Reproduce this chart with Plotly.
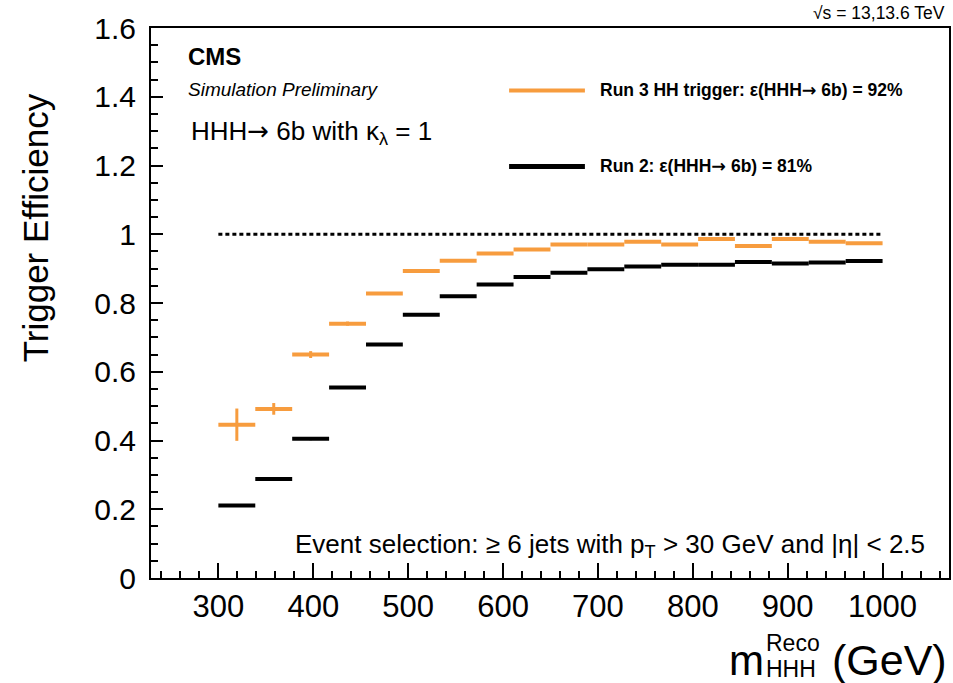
import plotly.graph_objects as go

# ---------------- data ----------------
bin_edges = [300.0, 338.9, 377.8, 416.7, 455.6, 494.4, 533.3, 572.2, 611.1, 650.0,
             688.9, 727.8, 766.7, 805.6, 844.4, 883.3, 922.2, 961.1, 1000.0]
run3_eff = [0.446, 0.492, 0.650, 0.740, 0.828, 0.893, 0.923, 0.944, 0.956, 0.970,
            0.970, 0.978, 0.970, 0.986, 0.966, 0.986, 0.978, 0.974]
run3_err = [0.047, 0.017, 0.010, 0.006, 0.004, 0.004, 0.003, 0.003, 0.003, 0.003,
            0.003, 0.003, 0.003, 0.003, 0.003, 0.003, 0.003, 0.003]
run2_eff = [0.211, 0.288, 0.405, 0.554, 0.679, 0.766, 0.820, 0.854, 0.876, 0.888,
            0.898, 0.906, 0.911, 0.911, 0.919, 0.915, 0.918, 0.922]
run2_err = [0.004, 0.004, 0.004, 0.004, 0.003, 0.003, 0.003, 0.003, 0.003, 0.003,
            0.003, 0.003, 0.003, 0.003, 0.003, 0.003, 0.003, 0.003]
unity_x = [300, 1000]
unity_y = [1.0, 1.0]
x_ticks = [300, 400, 500, 600, 700, 800, 900, 1000]

ORANGE = "#f79c3e"
FONT = "Liberation Sans"
ARROW = '<span style="font-family:DejaVu Sans">\u2192</span>'

centers = [(a + b) / 2 for a, b in zip(bin_edges[:-1], bin_edges[1:])]
halfw = [(b - a) / 2 for a, b in zip(bin_edges[:-1], bin_edges[1:])]

W, H = 953, 683
L, R, T, B = 151, 2, 28, 105
PW, PH = W - L - R, H - T - B


def px(xp):
    return (xp - L) / PW


def py(yp):
    return (H - B - yp) / PH


fig = go.Figure()

fig.add_trace(go.Scatter(
    x=unity_x, y=unity_y, mode="lines",
    line=dict(color="black", width=3, dash="4px,3px"),
    showlegend=False, hoverinfo="skip"))

fig.add_trace(go.Scatter(
    x=centers, y=run2_eff, mode="markers",
    marker=dict(size=1, color="rgba(0,0,0,0)"),
    error_x=dict(type="data", array=halfw, width=0, thickness=4, color="black"),
    error_y=dict(type="data", array=run2_err, width=0, thickness=3, color="black"),
    name="Run 2", showlegend=False))

fig.add_trace(go.Scatter(
    x=centers, y=run3_eff, mode="markers",
    marker=dict(size=1, color="rgba(0,0,0,0)"),
    error_x=dict(type="data", array=halfw, width=0, thickness=4, color=ORANGE),
    error_y=dict(type="data", array=run3_err, width=0, thickness=3, color=ORANGE),
    name="Run 3", showlegend=False))

fig.update_layout(
    width=W, height=H,
    margin=dict(l=L, r=R, t=T, b=B, pad=0),
    plot_bgcolor="white", paper_bgcolor="white",
    font=dict(family=FONT, color="black"),
    showlegend=False,
)

fig.update_xaxes(
    range=[229, 1070], tickmode="array", tickvals=x_ticks,
    ticktext=[str(v) for v in x_ticks],
    ticks="inside", ticklen=15, tickwidth=2, tickcolor="black",
    minor=dict(ticks="inside", ticklen=7, tickwidth=2, tickcolor="black",
               dtick=20, tick0=300, showgrid=False),
    showline=True, linewidth=2, linecolor="black", mirror=True,
    showgrid=False, zeroline=False,
    tickfont=dict(size=31, family=FONT), ticklabelstandoff=0,
)
fig.update_yaxes(
    range=[0, 1.6], dtick=0.2, tick0=0,
    ticks="inside", ticklen=12, tickwidth=2, tickcolor="black",
    minor=dict(ticks="inside", ticklen=7, tickwidth=2, tickcolor="black",
               dtick=0.05, tick0=0, showgrid=False),
    showline=True, linewidth=2, linecolor="black", mirror=True,
    showgrid=False, zeroline=False,
    tickfont=dict(size=30, family=FONT), ticklabelstandoff=7,
)

ann = []


def add_text(text, xp, yp, size, xanchor="left", yanchor="middle", angle=0, **kw):
    ann.append(dict(text=text, x=px(xp), y=py(yp), xref="paper", yref="paper",
                    xanchor=xanchor, yanchor=yanchor, showarrow=False,
                    textangle=angle, font=dict(size=size, family=FONT, color="black"),
                    **kw))


add_text("<b>CMS</b>", 186, 56, 24)
add_text("<i>Simulation Preliminary</i>", 186, 90, 19)
add_text("HHH" + ARROW + " 6b with \u03ba<sub>\u03bb</sub> = 1", 189, 132, 26)
add_text("<b>Run 3 HH trigger: \u03b5(HHH" + ARROW + " 6b) = 92%</b>", 599, 90, 17.5)
add_text("<b>Run 2: \u03b5(HHH" + ARROW + " 6b) = 81%</b>", 599, 166, 17.5)
add_text("Event selection: \u2265 6 jets with p<sub>T</sub> &gt; 30 GeV and |\u03b7| &lt; 2.5",
         293, 545, 26)
add_text("\u221as = 13,13.6 TeV", 949, 13, 17.5, xanchor="right")
add_text("Trigger Efficiency", 35, 228, 35, xanchor="center", angle=-90)
add_text("m", 728, 660, 42)
add_text("(GeV)", 951, 660, 43, xanchor="right")
add_text("Reco", 766, 643, 23)
add_text("HHH", 766, 669, 23)

fig.update_layout(annotations=ann)

shapes = [
    dict(type="line", xref="paper", yref="paper", x0=px(510), x1=px(586),
         y0=py(90.5), y1=py(90.5), line=dict(color=ORANGE, width=4)),
    dict(type="line", xref="paper", yref="paper", x0=px(510), x1=px(586),
         y0=py(166.5), y1=py(166.5), line=dict(color="black", width=5)),
]
fig.update_layout(shapes=shapes)

fig.write_html("out.html")
